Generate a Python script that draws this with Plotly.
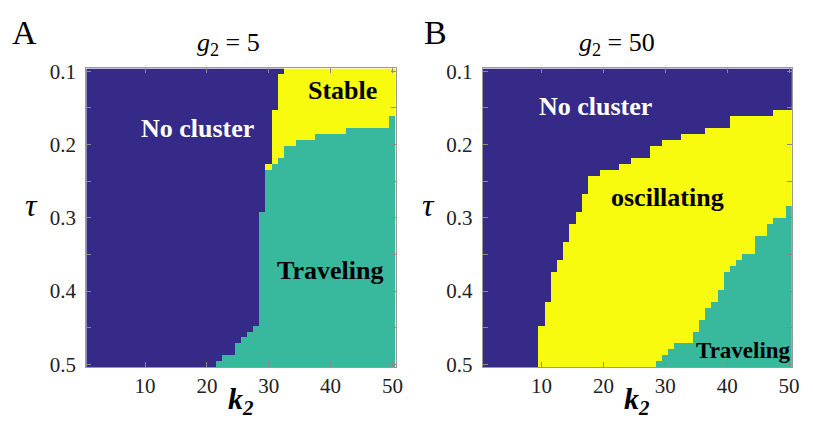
import numpy as np
import plotly.graph_objects as go

# ---------------- data ----------------
k2_values = list(range(1, 51))                     # 50 columns
tau_values = list(np.linspace(0.1, 0.5, 50))       # 50 rows (top -> bottom)

# Panel A (g2 = 5): per k2 column, number of rows (from tau=0.1) in "No cluster"
A_nocluster_rows = [50]*21 + [49, 48, 48, 46, 45, 44, 43, 24, 16, 7, 1] + [0]*18
# Panel A: first row index that is "Traveling" (rows between are "Stable")
A_traveling_start = ([50]*21 + [49, 48, 48, 46, 45, 44, 43, 24]
                     + [17, 16, 15, 13, 13, 12, 12, 12, 11, 11, 11, 11, 11]
                     + [10]*7 + [8])

# Panel B (g2 = 50): per k2 column, rows in "No cluster"
B_nocluster_rows = ([50]*9 + [43, 39, 34, 32, 29, 26, 24, 21, 18, 18, 17, 17, 17,
                               16, 16, 15, 15, 15, 13, 13, 12, 12, 12,
                               11, 11, 11, 11, 10, 10, 10, 10]
                    + [8]*7 + [7]*3)
# Panel B: first row index that is "Traveling" (rows between are "oscillating")
B_traveling_start = ([50]*28 + [49, 48, 47, 46, 46, 46, 44, 42, 40, 39, 37, 34, 33, 32,
                                31, 31, 28, 28, 26, 25, 25, 23])

titles = ["<i>g</i><sub>2</sub> = 5", "<i>g</i><sub>2</sub> = 50"]
x_ticks = [10, 20, 30, 40, 50]
y_ticks = [0.1, 0.15, 0.2, 0.25, 0.3, 0.35, 0.4, 0.45, 0.5]
y_ticktext = ["0.1", "", "0.2", "", "0.3", "", "0.4", "", "0.5"]

BLUE, TEAL, YELLOW = "#352A87", "#38B99E", "#F9FB0E"
FONT = "Liberation Serif, Times New Roman, serif"


def build_z(nocluster, traveling):
    z = []
    for r in range(len(tau_values)):
        row = []
        for c in range(len(k2_values)):
            if r < nocluster[c]:
                row.append(0)
            elif r < traveling[c]:
                row.append(2)
            else:
                row.append(1)
        z.append(row)
    return z


colorscale = [[0, BLUE], [0.3333, BLUE], [0.3333, TEAL], [0.6667, TEAL],
              [0.6667, YELLOW], [1, YELLOW]]

fig = go.Figure()
for i, (nc, tr) in enumerate([(A_nocluster_rows, A_traveling_start),
                              (B_nocluster_rows, B_traveling_start)]):
    fig.add_trace(go.Heatmap(
        x=k2_values, y=tau_values, z=build_z(nc, tr),
        zmin=0, zmax=2, colorscale=colorscale, showscale=False,
        xaxis="x" if i == 0 else "x2", yaxis="y" if i == 0 else "y2",
        hoverinfo="skip"))

W, H = 813, 426
dy = (tau_values[1] - tau_values[0]) / 2
y0 = 1 - 374 / H
y1 = 1 - 62 / H

axis_common = dict(showline=True, mirror="allticks", linecolor="#9a9a9a",
                   linewidth=1, ticks="inside", ticklen=5, tickcolor="#8a8a8a",
                   showgrid=False, zeroline=False,
                   tickfont=dict(family=FONT, size=21, color="#222"))

fig.update_layout(
    width=W, height=H, autosize=False,
    margin=dict(l=0, r=0, t=0, b=0),
    paper_bgcolor="white", plot_bgcolor="white",
    xaxis=dict(domain=[87 / W, 399 / W], range=[0.5, 50.5], tickvals=x_ticks,
               anchor="y", **axis_common),
    yaxis=dict(domain=[y0, y1], range=[0.5 + dy, 0.1 - dy], tickvals=y_ticks,
               ticktext=y_ticktext, anchor="x", ticklabelstandoff=5, **axis_common),
    xaxis2=dict(domain=[487 / W, 799 / W], range=[0.5, 50.5], tickvals=x_ticks,
                anchor="y2", **axis_common),
    yaxis2=dict(domain=[y0, y1], range=[0.5 + dy, 0.1 - dy], tickvals=y_ticks,
                ticktext=y_ticktext, anchor="x2", ticklabelstandoff=5, **axis_common),
)

ann = []
# region labels (data coordinates)
def region(text, x, y, xref, yref, color, size=26):
    ann.append(dict(text=f"<b>{text}</b>", x=x, y=y, xref=xref, yref=yref,
                    showarrow=False, font=dict(family=FONT, size=size, color=color)))

region("No cluster", 18.45, 0.178, "x", "y", "white")
region("Stable", 42.0, 0.126, "x", "y", "black")
region("Traveling", 39.9, 0.372, "x", "y", "black")
region("No cluster", 18.7, 0.148, "x2", "y2", "white")
region("oscillating", 30.3, 0.272, "x2", "y2", "black")
region("Traveling", 42.65, 0.481, "x2", "y2", "black", size=23)

def paper(text, px, py, size, **kw):
    ann.append(dict(text=text, x=px / W, y=1 - py / H, xref="paper", yref="paper",
                    showarrow=False, xanchor="center", yanchor="middle",
                    font=dict(family=FONT, size=size, color="black"), **kw))

paper("A", 25, 25, 34)
paper("B", 439, 25, 34)
paper(titles[0], 230, 37, 26)
paper(titles[1], 622, 37, 26)
paper("<i>τ</i>", 32, 205, 32)
paper("<i>τ</i>", 432, 205, 32)
paper("<b><i>k</i></b><sub><b><i>2</i></b></sub>", 243, 409, 30)
paper("<b><i>k</i></b><sub><b><i>2</i></b></sub>", 643, 409, 30)

fig.update_layout(annotations=ann)
fig.write_html("out.html")
